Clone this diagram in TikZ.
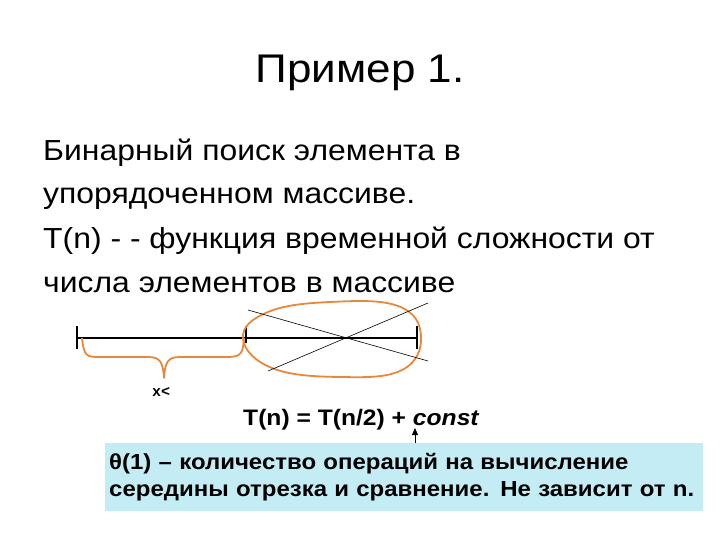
\documentclass[tikz,border=0pt]{standalone}
\usepackage{fontspec}
\setmainfont{Liberation Sans}
\newfontfamily\widefont[FakeStretch=1.1]{Liberation Sans}
\newfontfamily\monofont{Liberation Mono}
\usetikzlibrary{arrows.meta}
\definecolor{brc}{RGB}{232,136,58}
\definecolor{boxc}{RGB}{196,236,244}
\begin{document}
\begin{tikzpicture}[x=1pt,y=-1pt,
  body/.style={anchor=base west, inner sep=0pt, font=\widefont\fontsize{29}{34}\selectfont},
  orangeline/.style={draw=brc, line width=1.8pt, line join=round},
  numline/.style={draw=black, line width=1.2pt},
  crossline/.style={draw=black, line width=0.6pt},
  infobox/.style={fill=boxc, anchor=north west, align=left, text width=590pt,
    inner xsep=4pt, inner ysep=0pt, minimum height=68pt,
    font=\widefont\fontsize{21.8}{27}\selectfont\bfseries},
]
\useasboundingbox (0,0) rectangle (720,540);
\node[anchor=base, inner sep=0pt, font=\widefont\fontsize{40}{48}\selectfont] (title) at (360,83) {Пример 1.};
\node[body] (l1) at (43,161) {Бинарный поиск элемента в};
\node[body] (l2) at (43,204) {упорядоченном массиве.};
\node[body] (l3) at (43,248) {Т(n) - - функция временной сложности от};
\node[body] (l4) at (43,292) {числа элементов в массиве};
% number line
\coordinate (a) at (77,338);
\coordinate (m) at (246,338);
\coordinate (b) at (417,338);
\draw[numline] (a) -- (b);
\draw[numline] ([yshift=-11pt]a) -- ([yshift=12pt]a);
\draw[numline] ([yshift=-5pt]m) -- ([yshift=12pt]m);
\draw[numline] ([yshift=-11pt]b) -- ([yshift=12pt]b);
% ellipse (hand drawn)
\draw[orangeline] plot[smooth cycle, tension=0.7] coordinates
  {(243,338) (268,312) (330,302) (398,306) (421,336) (402,370) (340,377) (272,368)};
% cross
\coordinate (c1) at (248,310);
\coordinate (c2) at (428,361);
\coordinate (c3) at (268,371);
\coordinate (c4) at (428,303);
\draw[crossline] (c1) -- (c2);
\draw[crossline] (c3) -- (c4);
% brace
\coordinate (bl) at (82,338);
\coordinate (br) at (244,338);
\coordinate (btip) at (164,378);
\draw[orangeline] (bl) .. controls (84,356) and (86,357) .. (100,357)
  -- (148,357) .. controls (160,357) and (163,362) .. (btip)
  .. controls (165,362) and (168,357) .. (180,357)
  -- (228,357) .. controls (242,357) and (243,352) .. (br);
\node[anchor=base, inner sep=0pt, font=\monofont\bfseries\fontsize{15}{17}\selectfont] (xl) at (161,396) {x<};
% formula
\node[anchor=base west, inner sep=0pt, font=\widefont\fontsize{22.4}{26}\selectfont\bfseries] (formula) at (243,425) {T(n) = T(n/2) + \textit{const}};
% box
\node[infobox] (box) at (105,443) {θ(1) – количество операций на вычисление\\середины отрезка и сравнение. Не зависит от n.};
\coordinate (tip) at (415,428);
\draw[line width=1pt, -{Triangle[length=7pt,width=6pt]}] (box.north -| tip) -- (tip);
\end{tikzpicture}
\end{document}
